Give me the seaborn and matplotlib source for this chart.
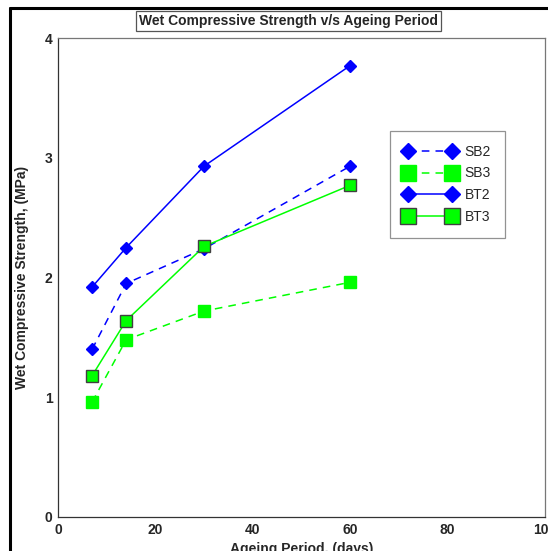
import pandas as pd
import matplotlib.pyplot as plt
import seaborn as sns
from matplotlib.lines import Line2D
from matplotlib.ticker import MultipleLocator

# values
days = [7, 14, 30, 60]
sb2 = [1.40, 1.95, 2.24, 2.93]
sb3 = [0.96, 1.48, 1.72, 1.96]
bt2 = [1.92, 2.25, 2.93, 3.77]
bt3 = [1.18, 1.64, 2.26, 2.77]

sns.set_style("white")
plt.rcParams['font.family'] = ['Liberation Sans', 'DejaVu Sans']

fig = plt.figure(figsize=(5.48, 5.51), dpi=100)
ax = fig.add_axes([58/548, 1 - 517/551, 487/548, 479/551])

blue = '#0000ff'
green = '#00ff00'

# series, marker, size, edge, dashed
series = [
    ('SB2', sb2, blue, 'D', 6.2, blue, True),
    ('SB3', sb3, green, 's', 8.6, green, True),
    ('BT2', bt2, blue, 'D', 6.2, blue, False),
    ('BT3', bt3, green, 's', 9.2, '#404040', False),
]

for name, vals, col, mk, ms, ec, dashed in series:
    d = pd.DataFrame({'days': days, 'val': vals})
    sns.lineplot(data=d, x='days', y='val', ax=ax, color=col, marker=mk,
                 markersize=ms, markeredgecolor=ec, markeredgewidth=1,
                 linewidth=1.1, label=name,
                 linestyle=(0, (5, 4)) if dashed else '-')

ax.set_xlim(0, 100)
ax.set_ylim(0, 4)
ax.xaxis.set_major_locator(MultipleLocator(20))
ax.xaxis.set_minor_locator(MultipleLocator(10))
ax.yaxis.set_major_locator(MultipleLocator(1))
ax.yaxis.set_minor_locator(MultipleLocator(0.5))
ax.tick_params(which='major', direction='in', length=9.5, width=0.8,
               color='#555555', labelsize=10, pad=4)
ax.tick_params(which='minor', direction='in', length=5, width=0.8,
               color='#555555')
for lab in ax.get_xticklabels() + ax.get_yticklabels():
    lab.set_fontweight('bold')

for s in ax.spines.values():
    s.set_color('#777777')
    s.set_linewidth(0.9)
ax.spines['left'].set_color('#333333')
ax.spines['bottom'].set_color('#333333')

ax.set_xlabel('Ageing Period, (days)', fontsize=10, fontweight='bold', labelpad=4)
ax.set_ylabel('Wet Compressive Strength, (MPa)', fontsize=10, fontweight='bold', labelpad=11)

leg = ax.legend(loc='upper left', bbox_to_anchor=(0.681, 0.806), numpoints=2,
                markerscale=1.3, fontsize=10, frameon=True, fancybox=False,
                handlelength=3.8, handletextpad=0.6, borderpad=1.0,
                labelspacing=0.55, borderaxespad=0)
leg.get_frame().set_edgecolor('#777777')
leg.get_frame().set_linewidth(0.9)

fig.text(288.5/548, 1 - 21/551, 'Wet Compressive Strength v/s Ageing Period',
         ha='center', va='center', fontsize=10, fontweight='bold',
         bbox=dict(boxstyle='square,pad=0.25', fc='white', ec='#555555', lw=0.9))

# outer frame lines at top and left edge
fig.add_artist(Line2D([10/548, 10/548], [0, 1 - 8/551], color='black', lw=2.2,
                      transform=fig.transFigure))
fig.add_artist(Line2D([10/548, 1], [1 - 8/551, 1 - 8/551], color='black', lw=2.2,
                      transform=fig.transFigure))

fig.savefig('out.png', dpi=100)
